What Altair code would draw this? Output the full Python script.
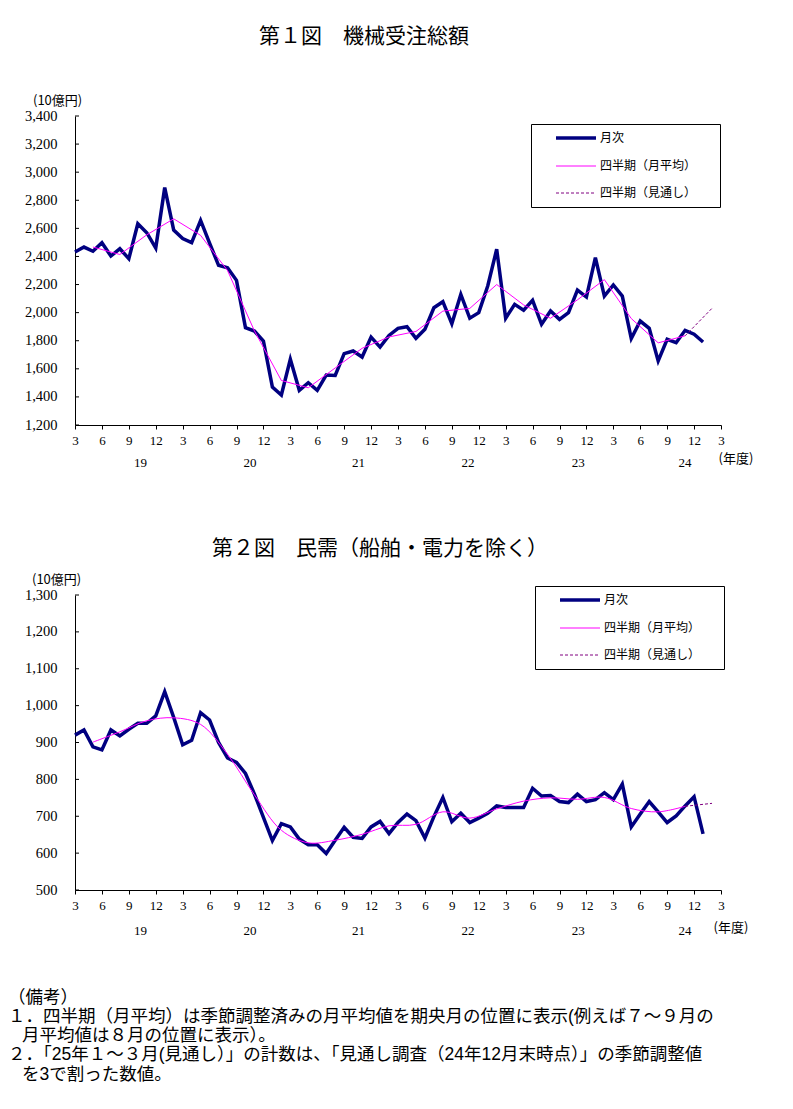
import altair as alt
import pandas as pd

SERIES = ["月次", "四半期（月平均）", "四半期（見通し）"]
COLORS = ["#000080", "#FF00FF", "#800080"]

TICK_LABELS = ["3", "6", "9", "12", "3", "6", "9", "12", "3", "6", "9", "12",
               "3", "6", "9", "12", "3", "6", "9", "12", "3", "6", "9", "12", "3"]
YEAR_LABELS = ["19", "20", "21", "22", "23", "24"]
YEAR_POS = [7.3, 19.5, 31.6, 43.8, 56.1, 68.0]

Q_POS = [2, 5, 8, 11, 14, 17, 20, 23, 26, 29, 32, 35, 38, 41, 44, 47, 50, 53, 56, 59, 62, 65, 68]
F_POS = [68, 71]

# Fig.1 machinery orders total (10 billion yen)
MONTHLY_1 = [2432, 2467, 2437, 2498, 2403, 2455, 2384, 2633, 2569, 2460,
             2890, 2588, 2527, 2498, 2657, 2495, 2337, 2320, 2230, 1893,
             1869, 1798, 1470, 1414, 1668, 1447, 1501, 1447, 1556, 1553,
             1708, 1727, 1684, 1826, 1755, 1838, 1888, 1900, 1817, 1881,
             2035, 2078, 1921, 2130, 1960, 2000, 2190, 2451, 1960, 2059,
             2017, 2088, 1917, 2012, 1952, 2000, 2161, 2111, 2391, 2118,
             2197, 2118, 1815, 1940, 1888, 1656, 1810, 1786, 1874, 1846,
             1791]
QUARTER_1 = [2467, 2414, 2554, 2668, 2550, 2300, 1870, 1517, 1465, 1606,
             1746, 1827, 1866, 2011, 2030, 2200, 2055, 1960, 2091, 2235,
             1958, 1785, 1835]
FORECAST_1 = [1835, 2031]
YTICKS_1 = [1200, 1400, 1600, 1800, 2000, 2200, 2400, 2600, 2800, 3000, 3200, 3400]

# Fig.2 private demand excl. ships & electric power
MONTHLY_2 = [920, 934, 888, 880, 934, 918, 936, 952, 952, 972,
             1038, 968, 894, 906, 981, 961, 900, 858, 846, 816,
             760, 697, 634, 680, 671, 638, 623, 623, 599, 635,
             670, 643, 640, 671, 686, 653, 683, 706, 688, 641,
             699, 751, 685, 708, 683, 695, 708, 728, 724, 724,
             724, 776, 755, 756, 740, 737, 760, 740, 745, 764,
             745, 787, 671, 706, 740, 712, 683, 701, 728, 753,
             652]
QUARTER_2 = [901, 929, 959, 967, 949, 868, 758, 662, 628, 635,
             651, 674, 678, 712, 695, 720, 741, 750, 746, 751,
             721, 712, 727]
FORECAST_2 = [727, 735]
YTICKS_2 = [500, 600, 700, 800, 900, 1000, 1100, 1200, 1300]

TITLE_1 = "第１図　機械受注総額"
TITLE_2 = "第２図　民需（船舶・電力を除く）"
UNIT = "(10億円)"
NENDO = "(年度)"
NOTE_LINES = ["（備考）",
              "１．四半期（月平均）は季節調整済みの月平均値を期央月の位置に表示(例えば７～９月の",
              "月平均値は８月の位置に表示）。",
              "２．「25年１～３月(見通し）」の計数は、「見通し調査（24年12月末時点）」の季節調整値",
              "を3で割った数値。"]

JP = "Noto Sans CJK JP"
NOTE_FONT = "'Liberation Sans', 'Noto Sans CJK JP'"
NUM = "Liberation Serif"
W = 646


def text_layer(t, x, y, font, size, align="center"):
    return alt.Chart(pd.DataFrame({"t": [t]})).mark_text(
        font=font, fontSize=size, align=align, baseline="middle", color="black").encode(
        x=alt.value(x), y=alt.value(y), text="t:N")


def panel(monthly, quarterly, forecast, yticks, height, legend_xy, title, title_xy,
          unit_xy, nendo_xy, year_y, curve, notes_y=None):
    label_js = "[" + ",".join("'%s'" % t for t in TICK_LABELS) + "]"
    x = alt.X("i:Q", scale=alt.Scale(domain=[0, 72], nice=False, zero=False),
              axis=alt.Axis(values=list(range(0, 73, 3)), labelExpr=label_js + "[round(datum.value/3)]",
                            title=None, grid=False, tickSize=4, labelPadding=5, labelFlush=False,
                            labelOverlap=False, labelAngle=0, labelFont=NUM, labelFontSize=13,
                            domainColor="black", tickColor="black", labelColor="black"))
    y = alt.Y("v:Q", scale=alt.Scale(domain=[yticks[0], yticks[-1]], nice=False, zero=False),
              axis=alt.Axis(values=yticks, format=",.0f", title=None, grid=False, ticks=False, tickSize=0,
                            labelPadding=18, labelFlush=False, labelOverlap=False, labelFont=NUM,
                            labelFontSize=14.5, domainColor="black", labelColor="black"))
    legend = alt.Legend(orient="none", legendX=legend_xy[0], legendY=legend_xy[1],
                        title="|", titleOrient="right", titleColor="white", titlePadding=12,
                        titleFontSize=12, titleFont=JP,
                        strokeColor="black", fillColor="white", padding=8,
                        symbolType="M-4,0H4", symbolSize=100, symbolOffset=31, labelOffset=18,
                        rowPadding=15, labelFont=JP, labelFontSize=12, labelColor="black",
                        symbolStrokeWidth={"expr": "datum.value === '月次' ? 3.5 : 1"},
                        symbolDash={"expr": "datum.value === '四半期（見通し）' ? [3, 2] : []"})
    color = alt.Color("s:N", scale=alt.Scale(domain=SERIES, range=COLORS), legend=legend)

    df_m = pd.DataFrame({"i": list(range(len(monthly))), "v": monthly, "s": SERIES[0]})
    df_q = pd.DataFrame({"i": Q_POS, "v": quarterly, "s": SERIES[1]})
    df_f = pd.DataFrame({"i": F_POS, "v": forecast, "s": SERIES[2]})

    m_line = alt.Chart(df_m).mark_line().encode(x=x, y=y, color=color, strokeWidth=alt.value(3.5))
    q_line = alt.Chart(df_q).mark_line(interpolate=curve).encode(x=x, y=y, color=color,
                                                                 strokeWidth=alt.value(1))
    f_line = alt.Chart(df_f).mark_line().encode(x=x, y=y, color=color, strokeWidth=alt.value(1),
                                                strokeDash=alt.value([3, 2]))
    ticks = alt.Chart(pd.DataFrame({"v": yticks})).mark_rule(color="black", strokeWidth=1).encode(
        y=y, x=alt.value(0), x2=alt.value(4))
    years = alt.Chart(pd.DataFrame({"i": YEAR_POS, "t": YEAR_LABELS})).mark_text(
        font=NUM, fontSize=13, baseline="middle", color="black").encode(
        x=x, y=alt.value(year_y), text="t:N")
    layers = [ticks, m_line, q_line, f_line, years,
              text_layer(title, title_xy[0], title_xy[1], JP, 21),
              text_layer(UNIT, unit_xy[0], unit_xy[1], JP, 13, "left"),
              text_layer(NENDO, nendo_xy[0], nendo_xy[1], JP, 13)]
    if notes_y is not None:
        xs = [-67, -67, -53, -67, -53]
        for k, line in enumerate(NOTE_LINES):
            layers.append(text_layer(line, xs[k], notes_y[k], NOTE_FONT, 17.5, "left"))
    return alt.layer(*layers).properties(width=W, height=height)


p1 = panel(MONTHLY_1, QUARTER_1, FORECAST_1, YTICKS_1, 309, (456, 8), TITLE_1, (289, -79),
           (-42, -15), (661, 343), 346.7, "linear")
p2 = panel(MONTHLY_2, QUARTER_2, FORECAST_2, YTICKS_2, 295, (460, -9), TITLE_2, (305, -46),
           (-43, -15), (656, 332.5), 336, "catmull-rom",
           notes_y=[403, 422, 441, 460, 480])

chart = alt.vconcat(p1, p2, spacing=170, bounds="flush").resolve_scale(
    color="independent").resolve_legend(color="independent").properties(
    padding={"left": 0, "top": 18, "right": 10, "bottom": 10}).configure_view(stroke=None)

chart.save("out.html", embed_options={"renderer": "svg", "actions": False})
